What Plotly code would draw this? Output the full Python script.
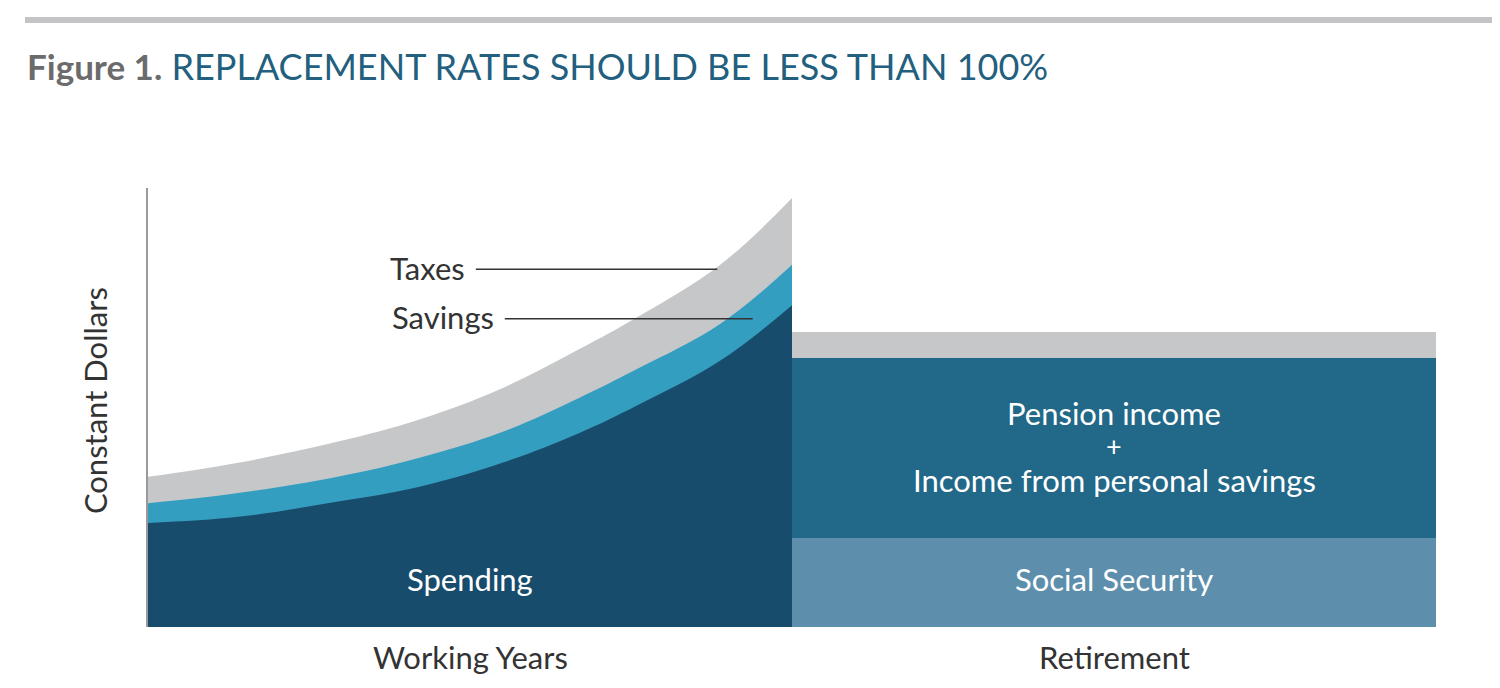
"""Replacement rates figure: working-years income split vs retirement income."""

import plotly.graph_objects as go

# working years: position along the career (0 = start, 100 = retirement)
WORK_X = [0, 14, 30, 42, 55, 67, 76, 89, 100]
# cumulative levels (top of each band), constant dollars index
SPENDING_TOP = [23.7, 25.1, 28.7, 31.9, 37.4, 44.2, 50.5, 60.8, 73.3]
SAVINGS_TOP = [28.2, 30.5, 34.4, 38.5, 44.4, 52.2, 58.8, 69.2, 82.5]
TAXES_TOP = [34.2, 37.4, 42.4, 47.2, 54.4, 63.3, 70.6, 82.7, 97.7]

# retirement: one block spanning the second half
RETIRE_X = [150]
RETIRE_WIDTH = [100]
SOCIAL_SECURITY = [20.3]
PENSION_SAVINGS = [41.0]
RETIRE_TAXES = [5.9]

C_SPENDING = "#184c6c"
C_SAVINGS = "#349ec0"
C_TAXES = "#c6c7c9"
C_PENSION = "#226888"
C_SOCIAL = "#5d8fad"
C_TEXT = "#333333"
FONT = "Lato, 'Open Sans', Arial, sans-serif"

fig = go.Figure()

for top, color in [(TAXES_TOP, C_TAXES), (SAVINGS_TOP, C_SAVINGS), (SPENDING_TOP, C_SPENDING)]:
    fig.add_trace(
        go.Scatter(
            x=WORK_X,
            y=top,
            mode="lines",
            line={"color": color, "width": 0, "shape": "spline", "smoothing": 1.1},
            fill="tozeroy",
            fillcolor=color,
            hoverinfo="skip",
            showlegend=False,
        )
    )

for vals, color in [(SOCIAL_SECURITY, C_SOCIAL), (PENSION_SAVINGS, C_PENSION), (RETIRE_TAXES, C_TAXES)]:
    fig.add_trace(
        go.Bar(
            x=RETIRE_X,
            y=vals,
            width=RETIRE_WIDTH,
            marker={"color": color, "line": {"width": 0}},
            hoverinfo="skip",
            showlegend=False,
        )
    )

white = {"family": FONT, "size": 31, "color": "white"}
dark = {"family": FONT, "size": 31, "color": C_TEXT}

annotations = [
    {"text": "Taxes", "x": 49.5, "y": 81.8, "xanchor": "right", "font": dark},
    {"text": "Savings", "x": 54.0, "y": 70.6, "xanchor": "right", "font": dark},
    {"text": "Spending", "x": 50, "y": 10.9, "font": white},
    {"text": "Pension income", "x": 150, "y": 48.8, "font": white},
    {"text": "+", "x": 150, "y": 41.3, "font": {**white, "size": 27}},
    {"text": "Income from personal savings", "x": 150, "y": 33.5, "font": white},
    {"text": "Social Security", "x": 150, "y": 10.9, "font": white},
]
for a in annotations:
    a.update({"xref": "x", "yref": "y", "showarrow": False, "yanchor": "middle"})

# labels outside the plot area go in paper units so they are not hidden
for text, x, y, angle in [
    ("Working Years", 0.25, -0.068, 0),
    ("Retirement", 0.75, -0.068, 0),
    ("Constant Dollars", -0.041, 0.515, -90),
]:
    annotations.append(
        {
            "text": text,
            "xref": "paper",
            "yref": "paper",
            "x": x,
            "y": y,
            "xanchor": "center",
            "yanchor": "middle",
            "textangle": angle,
            "showarrow": False,
            "font": dark,
        }
    )

shapes = [
    # leader lines
    {"type": "line", "xref": "x", "yref": "y", "x0": 50.9, "x1": 88.4, "y0": 81.5, "y1": 81.5,
     "line": {"color": C_TEXT, "width": 1.5}},
    {"type": "line", "xref": "x", "yref": "y", "x0": 55.4, "x1": 93.9, "y0": 70.2, "y1": 70.2,
     "line": {"color": C_TEXT, "width": 1.5}},
    # top rule
    {"type": "line", "xref": "paper", "yref": "paper", "x0": -0.0955, "x1": 1.0458, "y0": 1.3827,
     "y1": 1.3827, "line": {"color": "#c4c4c6", "width": 6}},
]

# page body has an 8px margin, so the figure is a little smaller than the window
fig.update_layout(
    width=1484,
    height=672,
    margin={"l": 140, "r": 56, "t": 180, "b": 53},
    paper_bgcolor="white",
    plot_bgcolor="white",
    barmode="stack",
    bargap=0,
    title={
        "text": "<b style='color:#6b6b6b;font-size:35px'>Figure 1.</b> "
        "<span style='color:#235f7e'>REPLACEMENT RATES SHOULD BE LESS THAN 100%</span>",
        "xref": "container",
        "yref": "container",
        "x": 0.0128,
        "xanchor": "left",
        "y": 0.912,
        "yanchor": "middle",
        "font": {"family": FONT, "size": 36},
    },
    annotations=annotations,
    shapes=shapes,
    font={"family": FONT, "color": C_TEXT},
)
fig.update_xaxes(range=[0, 200], showgrid=False, zeroline=False, showticklabels=False,
                 showline=False, fixedrange=True)
fig.update_yaxes(range=[0, 100], showgrid=False, zeroline=False, showticklabels=False,
                 showline=True, linecolor="#9a9a9a", linewidth=1.5, fixedrange=True)

fig.write_html("out.html")
